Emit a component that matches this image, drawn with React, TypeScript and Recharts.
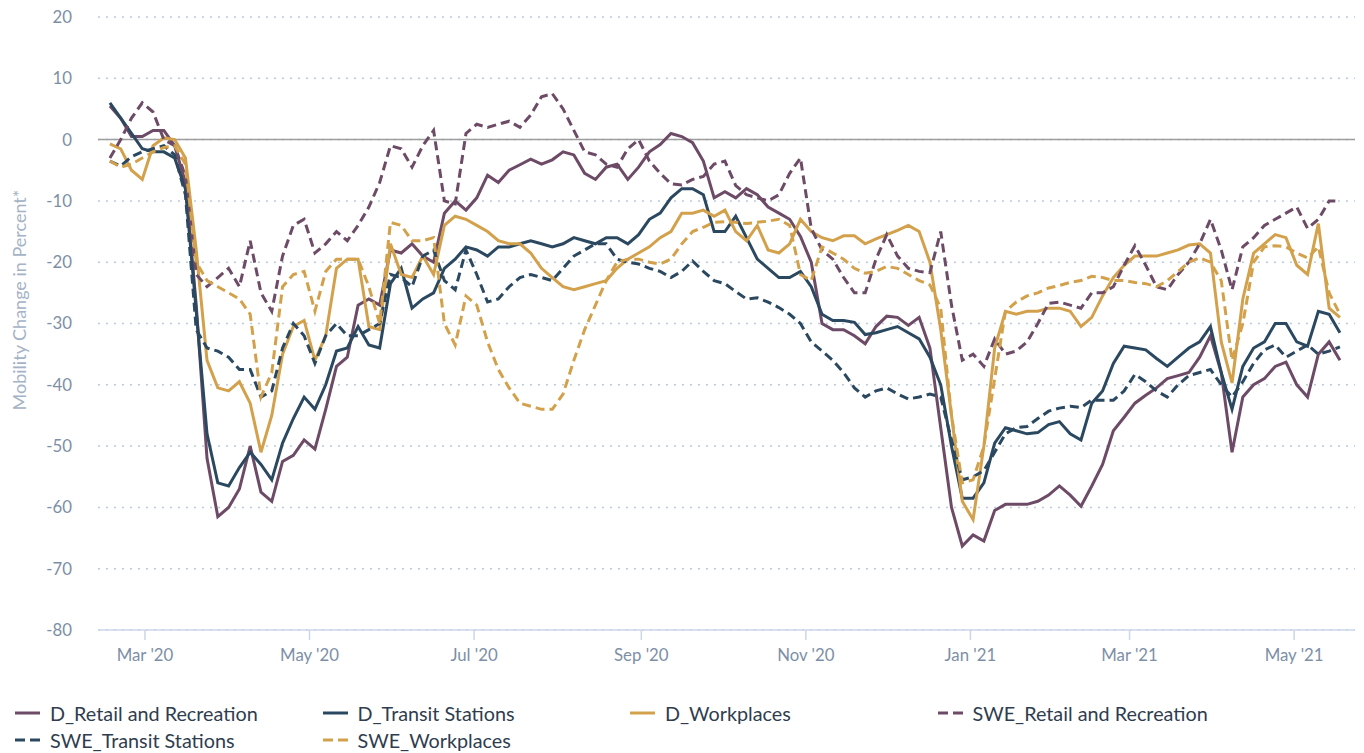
import {
  LineChart,
  Line,
  XAxis,
  YAxis,
  CartesianGrid,
  ReferenceLine,
  Legend
} from 'recharts';

// sampled every 4 days, first point 17 Feb 2020
const firstDay = Date.UTC(2020, 1, 17);
const stepDays = 4;
const DAY = 86400000;

const dRetail = [
  5.5, 3.5, 0.5, 0.5, 1.5, 1.5, -1, -7, -27, -52,
  -61.5, -60, -57, -50, -57.5, -59, -52.5, -51.5, -49, -50.5,
  -44, -37, -35.5, -27, -26, -27, -18, -18.5, -17, -19,
  -20, -12, -10, -11.5, -9.5, -5.8, -7, -5, -4.1, -3.2,
  -4, -3.3, -2, -2.5, -5.5, -6.5, -4.5, -4, -6.5, -4.5,
  -2, -0.8, 1, 0.5, -0.5, -3.5, -9.5, -8.5, -9.5, -8,
  -9, -11, -12, -13, -15.8, -20, -30, -31, -31, -32,
  -33.3, -30.5, -28.8, -29, -30.3, -29, -34, -47, -60, -66.3,
  -64.5, -65.5, -60.5, -59.5, -59.5, -59.5, -59, -58, -56.5, -58,
  -59.8, -56.5, -53, -47.5, -45.3, -43, -41.7, -40.5, -39, -38.5,
  -38, -35.5, -32, -38, -51, -42, -40, -39, -37, -36.3,
  -40, -42, -35, -33, -36
];

const dTransit = [
  6, 3.5, 1, -1.5, -2, -2, -3, -8, -28, -48,
  -56, -56.5, -53.5, -51, -53, -55.5, -49.5, -45.5, -42, -44,
  -40, -34.5, -34, -30.5, -33.5, -34, -23.5, -21, -27.5, -26,
  -25, -21, -19.5, -17.5, -18, -19, -17.5, -17.5, -17, -16.5,
  -17, -17.5, -17, -16, -16.5, -17, -16, -16, -17, -15.5,
  -13, -12, -9.5, -8, -8, -9, -15, -15, -12.5, -16,
  -19.5, -21, -22.5, -22.5, -21.5, -24, -28.5, -29.5, -29.5, -29.8,
  -31.8, -31.5, -31, -30.5, -31.5, -32.5, -35.5, -40, -50, -58.5,
  -58.5, -56, -49.5, -47, -47.5, -48, -47.8, -46.5, -46, -48,
  -49, -43, -41, -36.5, -33.7, -34, -34.3, -35.7, -37, -35.5,
  -34, -33, -30.5, -38, -44, -37, -34, -33, -30, -30,
  -33, -33.7, -28, -28.5, -31.5
];

const dWorkplaces = [
  -0.7, -1.5, -5, -6.5, -1, 0.3, 0, -3, -18, -36,
  -40.5, -41, -39.5, -43, -51, -45, -35, -30.5, -29.5, -36,
  -32, -21, -19.5, -19.5, -30.5, -31, -17, -22, -22.5, -19,
  -22, -14, -12.5, -13, -14, -15, -16.5, -17, -17, -18.5,
  -21, -22.5, -24, -24.5, -24, -23.5, -23, -21, -19.5, -18.5,
  -17.5, -16, -15, -12, -12, -11.5, -12.5, -11.5, -15, -16.5,
  -14, -18, -18.5, -17, -13, -15, -16, -16.5, -15.7, -15.7,
  -17, -16.2, -15.5, -14.8, -14, -15, -20, -31, -45, -59,
  -62, -50, -34, -28, -28.5, -28, -28, -27.5, -27.5, -28,
  -30.5, -29, -25.5, -22.5, -20.5, -19, -19, -19, -18.5, -18,
  -17.2, -17, -18.5, -33, -39.7, -26, -18.5, -17, -15.5, -16,
  -20.5, -22, -13.7, -27.5, -29
];

const sweRetail = [
  -3, 0, 3.5, 6, 4.5, 0, -1, -6, -22, -24,
  -22.5, -21, -24, -16.5, -25, -28, -19, -14, -13, -18.5,
  -17, -15, -16.5, -14, -11, -7, -1, -1.5, -4.5, -1,
  1.5, -10, -10.5, 1, 2.5, 2, 2.5, 3, 2, 4,
  7, 7.5, 5, 1.5, -2, -2.5, -4, -4.5, -1.5, 0,
  -3.5, -5.5, -7.2, -7.4, -6.5, -6, -4, -3.5, -7.5, -9,
  -9.5, -10, -9, -5.5, -3, -14.5, -18, -19.5, -22.5, -25,
  -25, -19.5, -15.5, -19, -21, -21.5, -21.7, -15, -27, -36,
  -35, -37, -32.5, -35, -34.5, -33, -30, -26.7, -26.5, -27,
  -27.5, -25, -25, -24, -20.5, -17.3, -20.5, -24, -24.5, -22,
  -20, -17, -13, -18, -24.5, -17.5, -16, -14, -13, -12,
  -11, -14.5, -13, -10, -10
];

const sweTransit = [
  -3.5, -4.3, -2.8, -2, -1.5, -1, -2.5, -9, -31, -34,
  -34.5, -35.5, -37.5, -37.5, -42, -41, -34, -30, -32, -36.5,
  -32, -30, -32, -32, -31, -30, -22, -22.5, -24, -19,
  -18, -23, -24.5, -18, -22, -26.5, -26, -24, -22.5, -22,
  -22.5, -23, -21, -19, -18, -17, -17, -19.5, -20, -20.3,
  -21, -21.5, -22.5, -21.5, -19.8, -21.5, -23, -23.5, -24.8, -26,
  -25.8, -26.5, -27.4, -28.5, -30, -33, -34.5, -36, -38, -40.5,
  -42, -41, -40.5, -41.5, -42.3, -42, -41.5, -42, -49, -55.5,
  -55, -54, -51, -48, -47, -46.8, -45.5, -44.3, -43.8, -43.5,
  -43.7, -42.5, -42.5, -42.5, -41, -38.3, -39.5, -41, -42, -40,
  -38.5, -38, -37.5, -40, -42, -39.5, -36.5, -34.3, -33.5, -35.5,
  -34.5, -33.5, -35, -34.5, -33.8
];

const sweWorkplaces = [
  -3.5, -4.5, -4, -3, -2, -1.3, -1, -4, -20, -23,
  -24, -25, -26, -28.5, -42, -38, -24, -22, -21.5, -28,
  -21.5, -19.5, -19.5, -19.5, -24, -30, -13.5, -14, -16.5, -16.5,
  -16, -30, -33.5, -25.5, -27, -33, -37.5, -40.5, -43, -43.5,
  -44, -44, -41.5, -36, -31, -27, -23, -20, -19.5, -19.5,
  -20, -20.3, -19.5, -17, -15, -14.3, -13.5, -13.4, -13.5, -13.7,
  -13.5, -13.3, -13, -14, -22, -23, -17.5, -18.5, -19.5, -21,
  -21.8, -21.5, -20.7, -21, -22, -23, -23.7, -27.5, -45, -56,
  -55.5, -50, -39, -28, -26.5, -25.5, -25, -24.2, -23.8, -23.3,
  -23, -22.3, -22.5, -23, -23, -23.3, -23.5, -24, -23, -21.5,
  -20, -19.3, -20, -23, -36, -30, -20, -17.5, -17.3, -17.5,
  -18.5, -19.3, -17.5, -25, -28.5
];

const monthTicks = [
  Date.UTC(2020, 2, 1), Date.UTC(2020, 4, 1), Date.UTC(2020, 6, 1), Date.UTC(2020, 8, 1),
  Date.UTC(2020, 10, 1), Date.UTC(2021, 0, 1), Date.UTC(2021, 2, 1), Date.UTC(2021, 4, 1)
];
const monthLabels = ["Mar '20", "May '20", "Jul '20", "Sep '20", "Nov '20", "Jan '21", "Mar '21", "May '21"];
const yTicks = [-80, -70, -60, -50, -40, -30, -20, -10, 0, 10, 20];

const PURPLE = '#6d4b66';
const NAVY = '#2b4861';
const GOLD = '#d3a14b';
const FONT = 'Lato, "Noto Sans", sans-serif';

const series = [
  { key: 'dRetail', name: 'D_Retail and Recreation', color: PURPLE, dashed: false },
  { key: 'dTransit', name: 'D_Transit Stations', color: NAVY, dashed: false },
  { key: 'dWorkplaces', name: 'D_Workplaces', color: GOLD, dashed: false },
  { key: 'sweRetail', name: 'SWE_Retail and Recreation', color: PURPLE, dashed: true },
  { key: 'sweTransit', name: 'SWE_Transit Stations', color: NAVY, dashed: true },
  { key: 'sweWorkplaces', name: 'SWE_Workplaces', color: GOLD, dashed: true }
];

const chartData = dRetail.map((v, i) => ({
  t: firstDay + i * stepDays * DAY,
  dRetail: v,
  dTransit: dTransit[i],
  dWorkplaces: dWorkplaces[i],
  sweRetail: sweRetail[i],
  sweTransit: sweTransit[i],
  sweWorkplaces: sweWorkplaces[i]
}));

function renderLegend() {
  return (
    <div style={{ height: 73, paddingLeft: 15, paddingTop: 20, boxSizing: 'border-box', display: 'flex', flexWrap: 'wrap', fontFamily: FONT }}>
      {series.map((s) => (
        <div key={s.key} style={{ width: 307.5, height: 26, display: 'flex', alignItems: 'center' }}>
          <svg width={25} height={4} style={{ marginRight: 10 }}>
            <line x1={0} y1={2} x2={25} y2={2} stroke={s.color} strokeWidth={3} strokeDasharray={s.dashed ? '10 5' : undefined} />
          </svg>
          <span style={{ fontSize: 19.8, color: '#2f3d4f' }}>{s.name}</span>
        </div>
      ))}
    </div>
  );
}

function YTitle() {
  return (
    <text x={19} y={300} transform="rotate(-90, 19, 300)" textAnchor="middle" dominantBaseline="central"
      fill="#a4b3c6" fontSize={18} fontFamily={FONT}>
      Mobility Change in Percent*
    </text>
  );
}

export default function App() {
  return (
    <div style={{ position: 'absolute', left: 0, top: 0, width: 1364, height: 753, background: '#fff' }}>
      <LineChart width={1364} height={753} data={chartData} margin={{ top: 17, right: 9, left: 0, bottom: 0 }}>
        <CartesianGrid vertical={false} stroke="#bccadb" strokeDasharray="2 6" strokeWidth={1.5} />
        <XAxis
          dataKey="t"
          type="number"
          scale="time"
          domain={[Date.UTC(2020, 1, 12, 14), Date.UTC(2021, 4, 23, 14)]}
          ticks={monthTicks}
          tickFormatter={(v: number) => monthLabels[monthTicks.indexOf(v)]}
          height={50}
          stroke="#ccd6eb"
          strokeWidth={1.5}
          tickSize={10}
          tickMargin={9}
          tick={{ fill: '#7d8fa6', fontSize: 16.8, fontFamily: FONT }}
        />
        <YAxis
          domain={[-80, 20]}
          ticks={yTicks}
          width={98}
          axisLine={false}
          tickLine={false}
          tickSize={0}
          tickMargin={26}
          tick={{ fill: '#7d8fa6', fontSize: 16.8, fontFamily: FONT }}
          label={{ content: YTitle }}
        />
        <ReferenceLine y={0} stroke="#9d9d9d" strokeWidth={1.5} />
        <Legend verticalAlign="bottom" height={73} content={renderLegend} wrapperStyle={{ left: 0, bottom: 0, width: 1364 }} />
        {series.map((s) => (
          <Line
            key={s.key}
            type="linear"
            dataKey={s.key}
            name={s.name}
            stroke={s.color}
            strokeWidth={3}
            strokeDasharray={s.dashed ? '9 5' : undefined}
            dot={false}
            activeDot={false}
            isAnimationActive={false}
          />
        ))}
      </LineChart>
    </div>
  );
}
